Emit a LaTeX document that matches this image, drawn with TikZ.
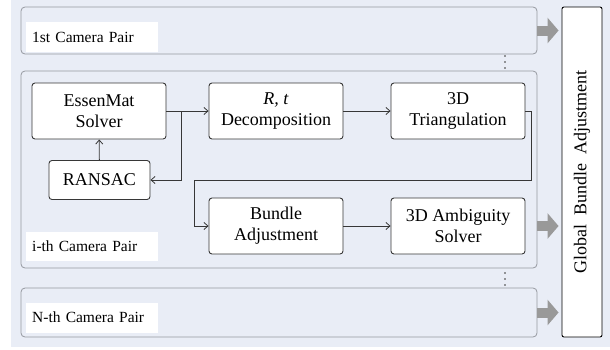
\documentclass[tikz,border=0pt]{standalone}
\usepackage{fontspec}
\setmainfont{Liberation Serif}
\usetikzlibrary{arrows.meta,calc}
\definecolor{bgblue}{RGB}{233,237,246}
\definecolor{pairline}{RGB}{150,153,160}
\definecolor{boxline}{RGB}{55,55,55}
\definecolor{fatgray}{RGB}{153,153,153}
\tikzset{
  stage/.style = {draw = boxline, fill = white, rounded corners = 3, line width = .9pt,
    minimum width = 134, minimum height = 56, align = center, font = \fontsize{18}{21}\selectfont},
  pair/.style = {draw = pairline, fill = bgblue, rounded corners = 4, line width = .8pt, minimum width = 516},
  pairlabel/.style = {fill = white, anchor = west, text width = 120, inner xsep = 6, minimum height = 30,
    align = left, font = \fontsize{15.5}{18}\selectfont},
  conn/.style = {draw = boxline, line width = .8pt, -{Straight Barb[length = 4pt, width = 7pt]}},
  fat/.style = {draw = fatgray, line width = 10pt, -{Triangle[length = 11pt, width = 25pt]}}
}
\begin{document}
\begin{tikzpicture}[x = 1pt, y = -1pt]
  \useasboundingbox (0, 0) rectangle (610, 349);
  \fill[bgblue] (11, 0) rectangle (610, 347);
  % camera pairs
  \node[pair, minimum height = 47] (pairone) at (279, 30.5) {};
  \node[pair, minimum height = 197] (pairi) at (279, 169.5) {};
  \node[pair, minimum height = 49] (pairn) at (279, 312.5) {};
  \node[pairlabel] (labone) at (26, 37) {1st Camera Pair};
  \node[pairlabel, minimum height = 29] (labi) at (26, 246.5) {i-th Camera Pair};
  \node[pairlabel] (labn) at (26, 317.5) {N-th Camera Pair};
  \foreach \y in {56, 62, 68, 273, 279, 285}
    \fill[boxline] (505, \y) circle (.9);
  % stages of one pair
  \node[stage] (essen) at (99, 111) {EssenMat\\Solver};
  \node[stage] (decomp) at (276, 111) {\textit{R, t}\\Decomposition};
  \node[stage] (triang) at (458, 111) {3D\\Triangulation};
  \node[stage, minimum width = 101, minimum height = 39] (ransac) at (99.5, 180) {RANSAC};
  \node[stage] (bundle) at (276, 226) {Bundle\\Adjustment};
  \node[stage] (ambig) at (458, 226) {3D Ambiguity\\Solver};
  \coordinate (split) at (181, 111);
  \coordinate (turn) at (194, 180);
  \draw[conn] (essen) -- (decomp);
  \draw[conn] (split) |- (ransac.east);
  \draw[conn] (ransac) -- (essen);
  \draw[conn] (decomp) -- (triang);
  \draw[conn] (triang.east) -- ++(6, 0) |- (turn) |- (bundle.west);
  \draw[conn] (bundle) -- (ambig);
  % global step
  \node[draw, fill = white, rounded corners = 2, line width = .9pt, minimum width = 330, minimum height = 40,
    rotate = 90, font = \fontsize{18}{21}\selectfont] (global) at (582, 172) {Global\ \ Bundle\ \ Adjustment};
  \draw[fat] (pairone.east) -- ([xshift = -3]global.north |- pairone.east);
  \draw[fat] (pairi.east |- ambig) -- ([xshift = -3]global.north |- ambig);
  \draw[fat] (pairn.east) -- ([xshift = -3]global.north |- pairn.east);
\end{tikzpicture}
\end{document}
